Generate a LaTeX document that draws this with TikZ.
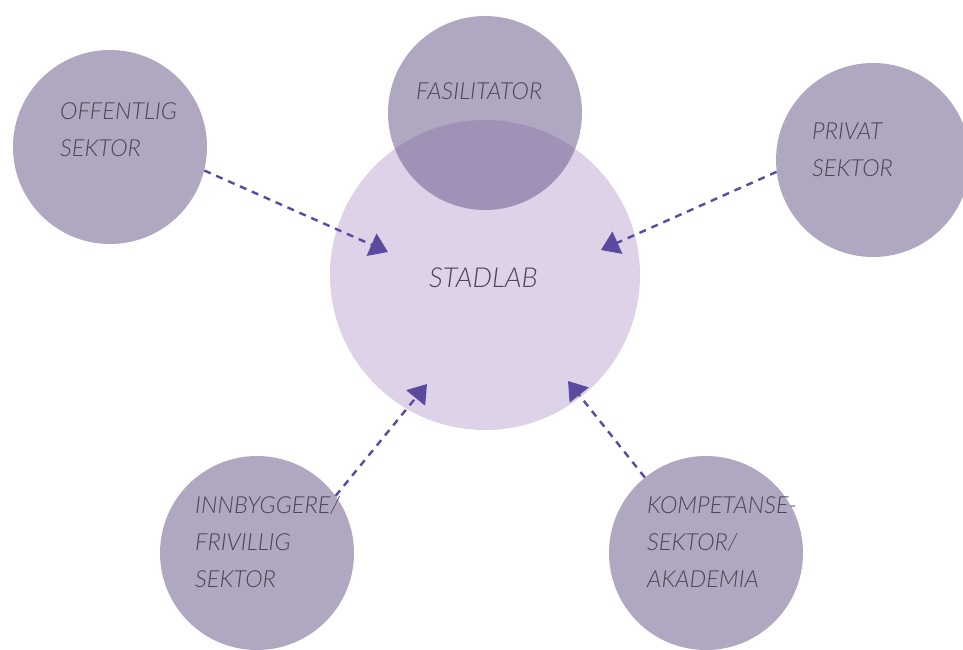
\documentclass[tikz,border=0pt]{standalone}
\usepackage{fontspec}
\newfontfamily\labfont{Lato Light Italic}
\usetikzlibrary{arrows.meta}
\definecolor{outerc}{HTML}{6A598A}
\definecolor{centerc}{HTML}{DDD2E8}
\definecolor{arrowc}{HTML}{5B4A9E}
\definecolor{textc}{HTML}{4A4550}
\tikzset{
  outerbubble/.style={circle, fill=outerc, fill opacity=0.53, draw=none, minimum size=194pt, inner sep=0pt},
  centerbubble/.style={circle, fill=centerc, draw=none, minimum size=310pt, inner sep=0pt},
  lab/.style={anchor=base west, inner sep=0pt, text=textc, font=\labfont\fontsize{23.5}{37}\selectfont, align=left},
  flow/.style={draw=arrowc, line width=2.4pt, dash pattern=on 7pt off 6pt, -{Triangle[length=18pt,width=24pt]}},
}
\begin{document}
\begin{tikzpicture}[x=1pt,y=-1pt]
\useasboundingbox (0,0) rectangle (963,650);
\node[centerbubble] (stad) at (485,275) {};
\node[outerbubble] (fas) at (485,113) {};
\node[outerbubble] (off) at (110,147) {};
\node[outerbubble] (priv) at (873,160) {};
\node[outerbubble] (innb) at (257,553) {};
\node[outerbubble] (komp) at (706,553) {};
\node[lab] (tstad) at (429,287) {\fontsize{27.5}{37}\selectfont STADLAB};
\node[lab] (tfas) at (416,100) {FASILITATOR};
\node[lab] (toff) at (60,157) {OFFENTLIG\\SEKTOR};
\node[lab] (tpriv) at (812,176) {PRIVAT\\SEKTOR};
\node[lab] (tinnb) at (195,587) {INNBYGGERE/\\FRIVILLIG\\SEKTOR};
\node[lab] (tkomp) at (647,587) {KOMPETANSE-\\SEKTOR/\\AKADEMIA};
\coordinate (t1) at (388,252);
\coordinate (t2) at (601,250);
\coordinate (t3) at (427,384);
\coordinate (t4) at (568,381);
\draw[flow] (off.-14) -- (t1);
\draw[flow] (priv.187) -- (t2);
\draw[flow] (innb.36) -- (t3);
\draw[flow] (komp.129) -- (t4);
\end{tikzpicture}
\end{document}
